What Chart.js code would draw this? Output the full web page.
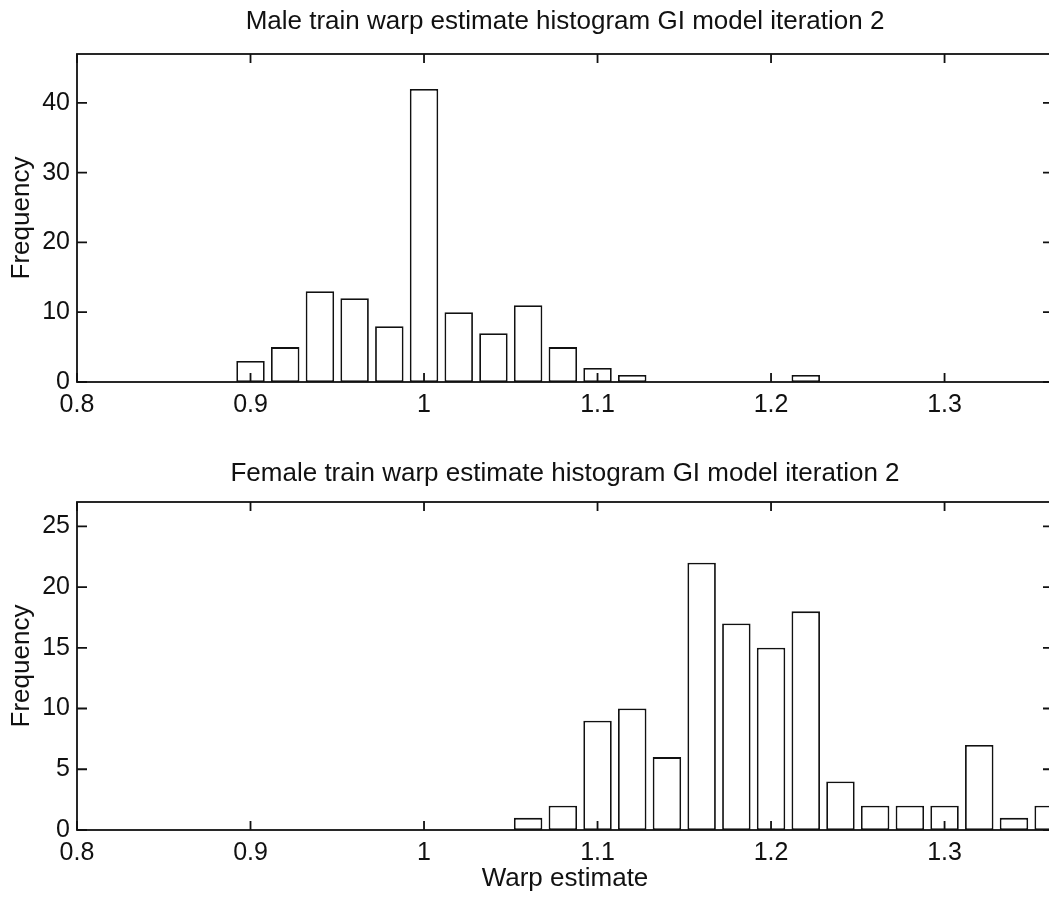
<!DOCTYPE html>
<html lang="en">
<head>
  <meta charset="UTF-8" />
  <title>Warp estimate histograms</title>
  <script src="https://cdn.jsdelivr.net/npm/chart.js"></script>
  <style>
    html, body { margin: 0; padding: 0; background: #fff; overflow: hidden; }
    #page { position: relative; width: 1049px; height: 899px; overflow: hidden; }
    .plot { position: absolute; left: 0; width: 1053px; }
    #malePlot { top: 0; height: 440px; }
    #femalePlot { top: 450px; height: 449px; }
  </style>
</head>
<body>
  <div id="page">
    <div class="plot" id="malePlot"><canvas id="maleChart"></canvas></div>
    <div class="plot" id="femalePlot"><canvas id="femaleChart"></canvas></div>
  </div>

  <script>
    // histogram bin centres and counts
    const maleBins   = [0.90, 0.92, 0.94, 0.96, 0.98, 1.00, 1.02, 1.04, 1.06, 1.08, 1.10, 1.12, 1.14, 1.16, 1.18, 1.20, 1.22];
    const maleCounts = [3, 5, 13, 12, 8, 42, 10, 7, 11, 5, 2, 1, 0, 0, 0, 0, 1];

    const femaleBins   = [1.06, 1.08, 1.10, 1.12, 1.14, 1.16, 1.18, 1.20, 1.22, 1.24, 1.26, 1.28, 1.30, 1.32, 1.34, 1.36];
    const femaleCounts = [1, 2, 9, 10, 6, 22, 17, 15, 18, 4, 2, 2, 2, 7, 1, 2];

    const xTicks = [0.8, 0.9, 1.0, 1.1, 1.2, 1.3];
    const maleTitle = 'Male train warp estimate histogram GI model iteration 2';
    const femaleTitle = 'Female train warp estimate histogram GI model iteration 2';

    const FONT = "'Liberation Sans', Arial, Helvetica, sans-serif";
    const INK = '#111';

    Chart.defaults.font.family = FONT;
    Chart.defaults.color = INK;

    // MATLAB style box with inward ticks on all four sides
    const boxAxes = {
      id: 'boxAxes',
      afterDatasetsDraw(chart) {
        const { ctx, chartArea: a, scales: { x, y } } = chart;
        ctx.save();
        ctx.strokeStyle = INK;
        ctx.lineWidth = 1.8;
        ctx.beginPath();
        x.ticks.forEach(t => {
          const px = x.getPixelForValue(t.value);
          ctx.moveTo(px, a.bottom); ctx.lineTo(px, a.bottom - 9);
          ctx.moveTo(px, a.top); ctx.lineTo(px, a.top + 9);
        });
        y.ticks.forEach(t => {
          const py = y.getPixelForValue(t.value);
          ctx.moveTo(a.left, py); ctx.lineTo(a.left + 10, py);
          ctx.moveTo(a.right, py); ctx.lineTo(a.right - 10, py);
        });
        ctx.stroke();
        ctx.strokeRect(a.left, a.top, a.right - a.left, a.bottom - a.top);
        ctx.restore();
      }
    };

    function makeHist(id, title, bins, counts, yMax, yStep, o) {
      return new Chart(document.getElementById(id), {
        type: 'bar',
        data: {
          datasets: [{
            data: bins.map((b, i) => ({ x: b, y: counts[i] })),
            backgroundColor: '#fff',
            borderColor: INK,
            borderWidth: 1.8,
            borderSkipped: false,
            barPercentage: 0.82,
            categoryPercentage: 1.0,
          }],
        },
        options: {
          responsive: true,
          maintainAspectRatio: false,
          animation: false,
          layout: { padding: 0 },
          plugins: {
            legend: { display: false },
            tooltip: { enabled: false },
            title: {
              display: true,
              text: title,
              fullSize: false,
              color: INK,
              font: { size: 26, weight: 'normal' },
              padding: o.titlePad,
            },
          },
          scales: {
            x: {
              type: 'linear',
              min: 0.8,
              max: 1.3625,
              offset: false,
              grid: { display: false, drawTicks: false, offset: false },
              border: { display: false },
              afterBuildTicks: s => { s.ticks = xTicks.map(v => ({ value: v })); },
              ticks: {
                font: { size: 25 },
                color: INK,
                padding: 8,
                maxRotation: 0,
                callback: v => String(+v.toFixed(2)),
              },
              title: {
                display: !!o.xTitle,
                text: o.xTitle || '',
                color: INK,
                font: { size: 26 },
                padding: { top: 0, bottom: 4.4 },
              },
              afterFit: s => { s.height = o.xHeight; },
            },
            y: {
              min: 0,
              max: yMax,
              grid: { display: false, drawTicks: false },
              border: { display: false },
              ticks: {
                stepSize: yStep,
                includeBounds: false,
                font: { size: 25 },
                color: INK,
                padding: 7,
              },
              title: {
                display: true,
                text: 'Frequency',
                color: INK,
                font: { size: 26 },
                padding: { top: 6, bottom: 0 },
              },
              afterFit: s => { s.width = 77; },
            },
          },
        },
        plugins: [boxAxes],
      });
    }

    makeHist('maleChart', maleTitle, maleBins, maleCounts, 47, 10,
      { titlePad: { top: 6, bottom: 16.8 }, xHeight: 58 });
    makeHist('femaleChart', femaleTitle, femaleBins, femaleCounts, 27, 5,
      { titlePad: { top: 8, bottom: 12.8 }, xHeight: 69, xTitle: 'Warp estimate' });
  </script>
</body>
</html>
